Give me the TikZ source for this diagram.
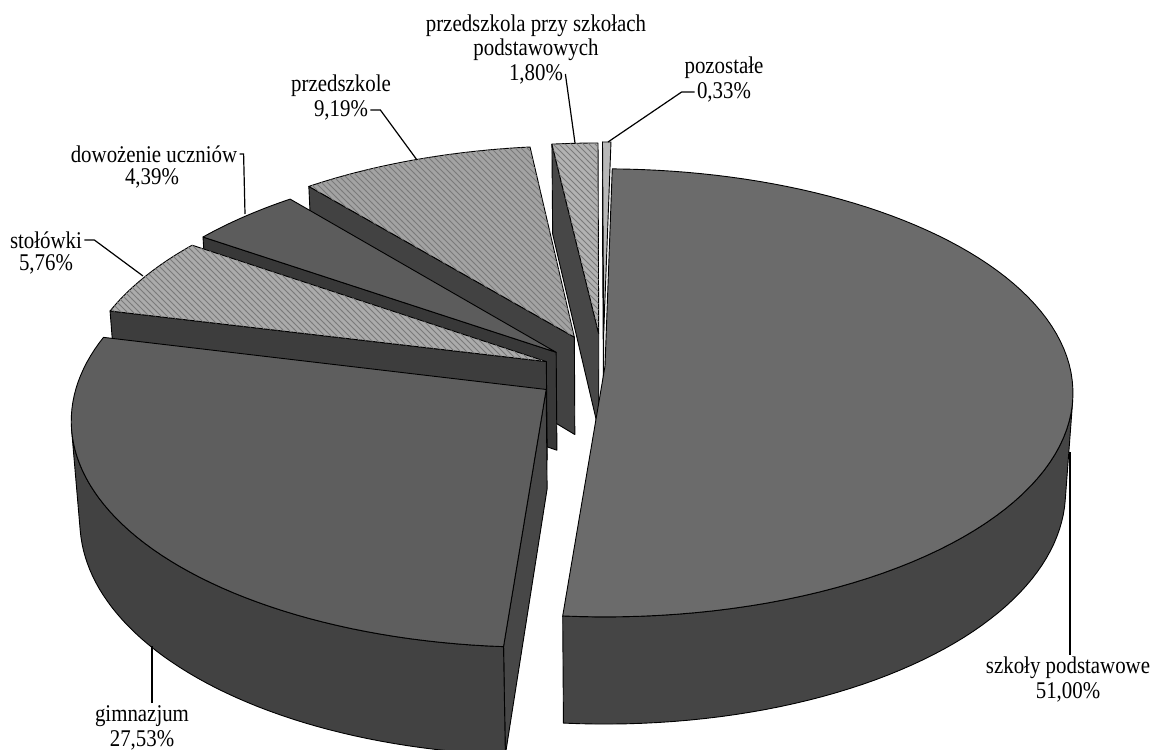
\documentclass[tikz,border=0pt]{standalone}
\usepackage{fontspec}
\setmainfont{Liberation Serif}[FakeStretch=0.87]
\usetikzlibrary{calc,patterns}

\tikzset{
  declare function={
    tx(\ua,\ub) = 605 + 464.6*(\ua)/(1+0.12*(\ub));
    ty(\ub) = 366 - 220.8*(\ub)/(1+0.12*(\ub));
    bx(\ua,\ub) = 605 + 464.6*(\ua)/(1.0159+0.12*(\ub));
    by(\ub) = 366 + (100-220.8*(\ub))/(1.0159+0.12*(\ub));
  },
  outl/.style={draw=black, line width=0.45pt, line join=round},
  hatched/.style={postaction={pattern=north west lines, pattern color=black!52}},
  leader/.style={draw=black, line width=0.6pt},
  slicelabel/.style={inner sep=1pt, align=center, font=\fontsize{12}{12}\selectfont},
}

\begin{document}
\begin{tikzpicture}[x=0.5pt, y=-0.5pt]
	\useasboundingbox (0,0) rectangle (1155,749);
	
	% pozostale
	\def\ox{-0.0028}\def\oz{0.1553}
	\filldraw[outl, fill=black!68] ({tx(\ox,\oz)},{ty(\oz)}) -- ({tx(\ox+cos(90.19),\oz+sin(90.19))},{ty(\oz+sin(90.19))}) -- ({bx(\ox+cos(90.19),\oz+sin(90.19))},{by(\oz+sin(90.19))}) -- ({bx(\ox,\oz)},{by(\oz)}) -- cycle;
	\filldraw[outl, fill=black!28] ({tx(\ox,\oz)},{ty(\oz)}) -- plot[domain=89:90.19, samples=5] ({tx(\ox+cos(\x),\oz+sin(\x))},{ty(\oz+sin(\x))}) -- cycle;
	
	% przedszkola przy szkolach podstawowych
	\def\ox{-0.0138}\def\oz{0.1493}
	\filldraw[outl, fill=black!72] ({tx(\ox,\oz)},{ty(\oz)}) -- ({tx(\ox+cos(96.67),\oz+sin(96.67))},{ty(\oz+sin(96.67))}) -- ({bx(\ox+cos(96.67),\oz+sin(96.67))},{by(\oz+sin(96.67))}) -- ({bx(\ox,\oz)},{by(\oz)}) -- cycle;
	\filldraw[outl, hatched, fill=black!30] ({tx(\ox,\oz)},{ty(\oz)}) -- plot[domain=90.19:96.67, samples=10] ({tx(\ox+cos(\x),\oz+sin(\x))},{ty(\oz+sin(\x))}) -- cycle;
	
	% przedszkole
	\def\ox{-0.067}\def\oz{0.1326}
	\filldraw[outl, fill=black!74] ({tx(\ox,\oz)},{ty(\oz)}) -- ({tx(\ox+cos(129.75),\oz+sin(129.75))},{ty(\oz+sin(129.75))}) -- ({bx(\ox+cos(129.75),\oz+sin(129.75))},{by(\oz+sin(129.75))}) -- ({bx(\ox,\oz)},{by(\oz)}) -- cycle;
	\filldraw[outl, hatched, fill=black!36] ({tx(\ox,\oz)},{ty(\oz)}) -- plot[domain=96.67:129.75, samples=30] ({tx(\ox+cos(\x),\oz+sin(\x))},{ty(\oz+sin(\x))}) -- cycle;
	
	% dowozenie uczniow
	\def\ox{-0.1059}\def\oz{0.0625}
	\filldraw[outl, fill=black!78] ({tx(\ox,\oz)},{ty(\oz)}) -- ({tx(\ox+cos(145.55),\oz+sin(145.55))},{ty(\oz+sin(145.55))}) -- ({bx(\ox+cos(145.55),\oz+sin(145.55))},{by(\oz+sin(145.55))}) -- ({bx(\ox,\oz)},{by(\oz)}) -- cycle;
	\filldraw[outl, fill=black!64] ({tx(\ox,\oz)},{ty(\oz)}) -- plot[domain=129.75:145.55, samples=20] ({tx(\ox+cos(\x),\oz+sin(\x))},{ty(\oz+sin(\x))}) -- cycle;
	
	% stolowki
	\def\ox{-0.1266}\def\oz{0.02}
	\filldraw[outl, fill=black!76] ({tx(\ox,\oz)},{ty(\oz)}) -- ({tx(\ox+cos(166.3),\oz+sin(166.3))},{ty(\oz+sin(166.3))}) -- ({bx(\ox+cos(166.3),\oz+sin(166.3))},{by(\oz+sin(166.3))}) -- ({bx(\ox,\oz)},{by(\oz)}) -- cycle;
	\filldraw[outl, hatched, fill=black!33] ({tx(\ox,\oz)},{ty(\oz)}) -- plot[domain=145.55:166.3, samples=20] ({tx(\ox+cos(\x),\oz+sin(\x))},{ty(\oz+sin(\x))}) -- cycle;
	
	% gimnazjum: side, rim, top
	\def\ox{-0.125}\def\oz{-0.105}
	\filldraw[outl, fill=black!72] ({tx(\ox,\oz)},{ty(\oz)}) -- ({tx(\ox+cos(266.3),\oz+sin(266.3))},{ty(\oz+sin(266.3))}) -- ({bx(\ox+cos(266.3),\oz+sin(266.3))},{by(\oz+sin(266.3))}) -- ({bx(\ox,\oz)},{by(\oz)}) -- cycle;
	\filldraw[outl, fill=black!74] plot[domain=190:266.3, samples=50] ({tx(\ox+cos(\x),\oz+sin(\x))},{ty(\oz+sin(\x))}) -- plot[domain=266.3:190, samples=50] ({bx(\ox+cos(\x),\oz+sin(\x))},{by(\oz+sin(\x))}) -- cycle;
	\filldraw[outl, fill=black!63] ({tx(\ox,\oz)},{ty(\oz)}) -- plot[domain=166.3:266.3, samples=60] ({tx(\ox+cos(\x),\oz+sin(\x))},{ty(\oz+sin(\x))}) -- cycle;
	
	% szkoly podstawowe: rim, top
	\filldraw[outl, fill=black!73] plot[domain=-94.6:-8.9, samples=50] ({tx(cos(\x),sin(\x))},{ty(sin(\x))}) -- plot[domain=-8.9:-94.6, samples=50] ({bx(cos(\x),sin(\x))},{by(sin(\x))}) -- cycle;
	\filldraw[outl, fill=black!58] (605,366) -- plot[domain=-94.6:89, samples=90] ({tx(cos(\x),sin(\x))},{ty(sin(\x))}) -- cycle;
	
	% labels
	\node[slicelabel] (lbl-pp) at (536,38) {przedszkola przy szkołach\\podstawowych};
	\node[slicelabel] (val-pp) at (536,74) {1,80\%};
	\node[slicelabel] (lbl-poz) at (724,68) {pozostałe};
	\node[slicelabel] (val-poz) at (724,92) {0,33\%};
	\node[slicelabel] (lbl-przed) at (341,86) {przedszkole};
	\node[slicelabel] (val-przed) at (341,110) {9,19\%};
	\node[slicelabel] (lbl-dow) at (154,154) {dowożenie uczniów};
	\node[slicelabel] (val-dow) at (152,178) {4,39\%};
	\node[slicelabel] (lbl-stol) at (46,240) {stołówki};
	\node[slicelabel] (val-stol) at (46,264) {5,76\%};
	\node[slicelabel] (lbl-gim) at (142,716) {gimnazjum};
	\node[slicelabel] (val-gim) at (142,740) {27,53\%};
	\node[slicelabel] (lbl-szk) at (1068,668) {szkoły podstawowe};
	\node[slicelabel] (val-szk) at (1068,692) {51,00\%};
	
	% leader lines
	\coordinate (pp-tip) at (575,143);
	\coordinate (poz-tip) at (608,142);
	\coordinate (przed-tip) at (417,160);
	\coordinate (dow-tip) at (245,214);
	\coordinate (stol-tip) at (143,276);
	\coordinate (gim-tip) at (152,646);
	\coordinate (szk-tip) at (1070,452);
	\draw[leader] (val-pp.east) -- (pp-tip);
	\draw[leader] (val-poz.west) -- ++(-13,0) -- (poz-tip);
	\draw[leader] (val-przed.east) -- ++(10,0) -- (przed-tip);
	\draw[leader] (lbl-dow.east) -- ++(4,0) -- (dow-tip);
	\draw[leader] (lbl-stol.east) -- ++(10,0) -- (stol-tip);
	\draw[leader] (lbl-gim.north -| gim-tip) -- (gim-tip);
	\draw[leader] (lbl-szk.north -| szk-tip) -- (szk-tip);
	
\end{tikzpicture}
\end{document}
